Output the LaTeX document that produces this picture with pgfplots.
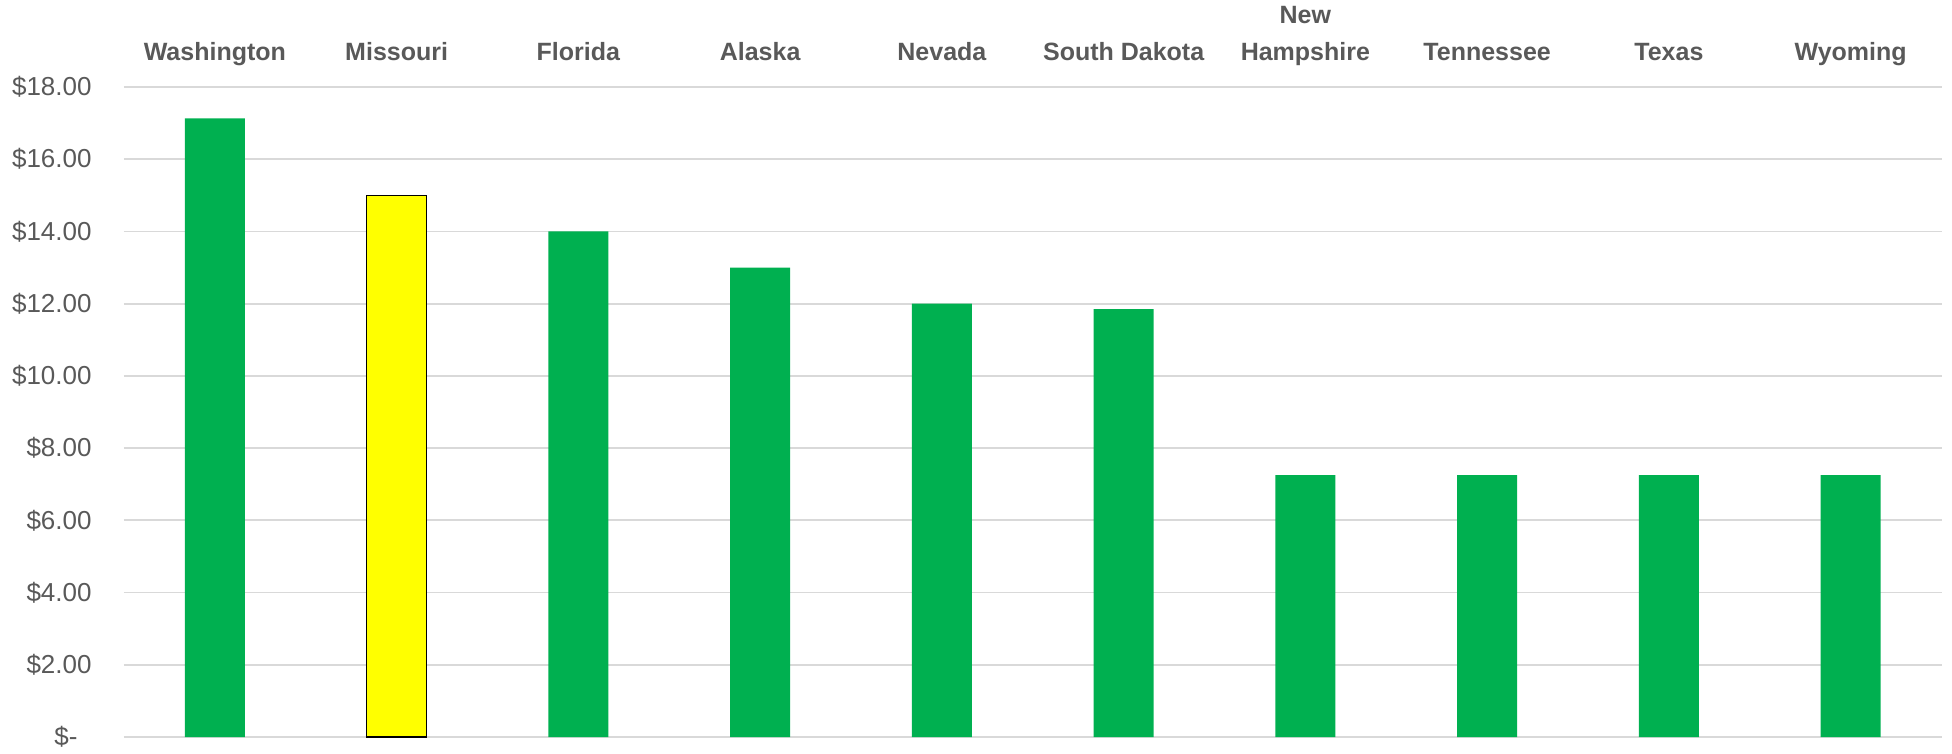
\documentclass[border=0pt]{standalone}
\usepackage{pgfplots}
\pgfplotsset{compat=1.18}
\usepackage{fontspec}
\setmainfont{Liberation Sans}
\definecolor{txtgray}{HTML}{595959}
\definecolor{gridgray}{HTML}{D9D9D9}
\definecolor{bargreen}{HTML}{00B050}
\definecolor{baryellow}{HTML}{FFFF00}
\begin{document}
\begin{tikzpicture}
\path[use as bounding box] (-62pt,-8.5pt) rectangle (914pt,368.5pt);
\begin{axis}[
  at={(0,0)}, anchor=south west,
  scale only axis,
  width=908.75pt, height=325pt,
  xmin=-0.5, xmax=9.5,
  ymin=0, ymax=18,
  axis line style={draw=none},
  major tick length=0pt,
  xtick={0,...,9},
  xticklabels={Washington,Missouri,Florida,Alaska,Nevada,South Dakota,{New\\Hampshire},Tennessee,Texas,Wyoming},
  xticklabel pos=upper,
  xticklabel style={font=\fontsize{12.5}{18.5}\selectfont\bfseries, text=txtgray, align=center, anchor=base, inner sep=0pt, yshift=13pt},
  ytick={0,2,...,18},
  yticklabels={{\$-\rule{7pt}{0pt}},\$2.00,\$4.00,\$6.00,\$8.00,\$10.00,\$12.00,\$14.00,\$16.00,\$18.00},
  yticklabel style={font=\fontsize{13}{15}\selectfont, text=txtgray, anchor=east, inner sep=0pt, xshift=-16pt},
  ymajorgrids,
  grid style={gridgray, line width=0.9pt},
  ybar, bar width=30pt,
  clip=false,
]
\addplot[ybar, fill=bargreen, draw=none, bar shift=0pt] coordinates {
 (0,17.13) (2,14.00) (3,13.00) (4,12.00) (5,11.85) (6,7.25) (7,7.25) (8,7.25) (9,7.25)
};
\addplot[ybar, fill=baryellow, draw=black, line width=0.8pt, bar shift=0pt] coordinates {
 (1,15.00)
};
\end{axis}
\end{tikzpicture}
\end{document}
